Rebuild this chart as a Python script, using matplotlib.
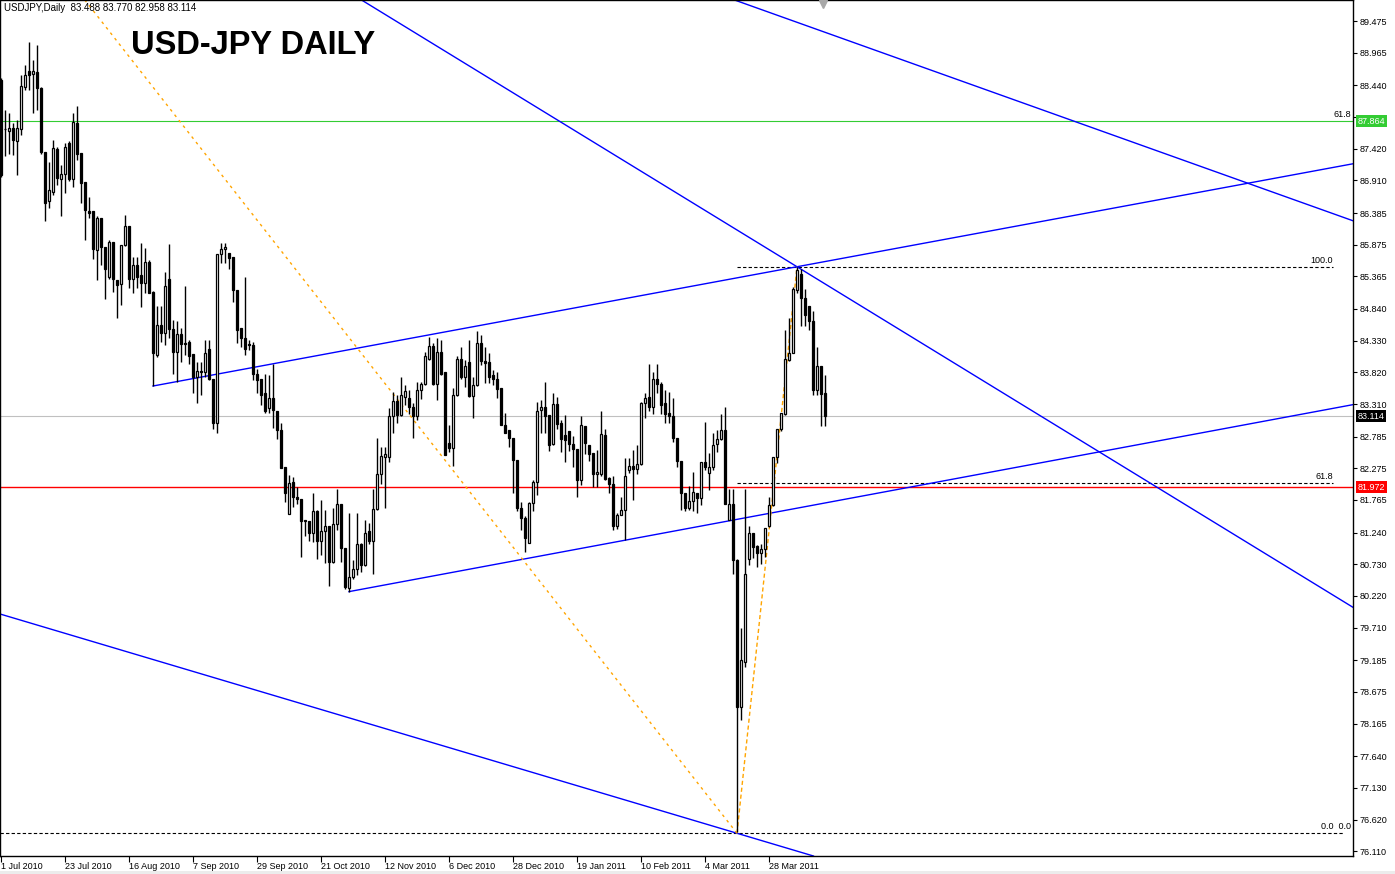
import matplotlib
matplotlib.use('Agg')
import matplotlib.pyplot as plt
import numpy as np
from matplotlib.patches import Rectangle

plt.rcParams['font.family'] = ['Liberation Sans', 'DejaVu Sans']

# daily USDJPY bars (bar index 0 = 1 Jul 2010)
opens = [88.52, 87.74, 87.71, 87.75, 87.55, 87.74, 88.42, 88.67, 88.63, 88.66,
         88.40, 87.37, 86.58, 86.72, 87.42, 86.94, 87.02, 87.51, 86.94, 87.83,
         87.35, 86.88, 86.42, 86.41, 85.79, 86.30, 85.83, 85.36, 85.92, 85.31,
         85.24, 85.87, 86.18, 85.33, 85.55, 85.39, 85.26, 85.59, 85.12, 84.10,
         84.58, 84.45, 85.33, 84.52, 84.15, 84.43, 84.29, 84.31, 84.11, 83.75,
         83.84, 83.82, 84.20, 83.72, 83.00, 85.73, 85.80, 85.74, 85.67, 85.15,
         84.53, 84.38, 84.28, 84.26, 83.80, 83.71, 83.48, 83.24, 83.40, 83.19,
         82.89, 82.30, 81.54, 82.06, 81.81, 81.78, 81.44, 81.42, 81.24, 81.58,
         81.11, 81.27, 81.34, 80.76, 81.38, 81.70, 80.99, 80.35, 80.53, 80.65,
         81.06, 80.72, 81.27, 81.11, 81.62, 82.19, 82.46, 82.46, 83.12, 83.36,
         83.13, 83.43, 83.40, 83.26, 83.11, 83.53, 83.64, 84.03, 84.24, 83.64,
         84.14, 83.83, 82.68, 82.60, 83.45, 84.03, 83.74, 83.99, 83.44, 83.62,
         84.29, 84.01, 83.98, 83.78, 83.72, 83.56, 82.98, 82.89, 82.77, 82.41,
         81.64, 81.47, 81.08, 81.71, 82.06, 83.21, 83.26, 83.13, 82.66, 83.31,
         83.00, 82.81, 82.88, 82.66, 82.58, 82.09, 82.96, 82.65, 82.52, 82.18,
         82.19, 82.81, 82.12, 82.03, 81.34, 81.52, 81.60, 82.25, 82.31, 82.26,
         82.34, 83.32, 83.42, 83.27, 83.71, 83.64, 83.33, 83.16, 83.12, 82.76,
         82.39, 81.88, 81.63, 81.75, 81.88, 81.79, 82.38, 82.20, 82.29, 82.66,
         82.74, 82.89, 81.45, 81.70, 80.80, 78.44, 79.16, 80.81, 81.23, 81.02,
         80.91, 80.98, 81.34, 81.68, 82.45, 82.90, 83.15, 84.02, 84.13, 85.15,
         85.40, 85.01, 84.89, 84.65, 83.54, 83.92, 83.488]
highs = [88.56, 88.04, 87.99, 87.83, 87.88, 88.61, 88.77, 89.13, 88.85, 89.09,
         88.42, 87.37, 87.21, 87.56, 87.45, 87.16, 87.51, 87.55, 87.99, 88.11,
         87.35, 86.88, 86.65, 86.41, 86.33, 86.30, 85.83, 85.95, 85.92, 85.31,
         85.87, 86.35, 86.18, 85.68, 85.68, 85.90, 85.82, 85.63, 85.13, 84.88,
         84.88, 85.44, 85.89, 84.66, 84.64, 84.53, 85.21, 84.34, 84.11, 83.99,
         83.99, 84.34, 84.34, 83.72, 85.73, 85.90, 85.91, 85.74, 85.67, 85.15,
         84.53, 85.36, 84.34, 84.31, 83.88, 83.71, 83.80, 83.78, 83.96, 83.19,
         83.00, 82.30, 82.17, 82.14, 81.98, 81.78, 81.44, 81.42, 81.87, 81.60,
         81.77, 81.60, 81.34, 81.63, 81.94, 81.70, 80.99, 81.55, 80.80, 81.55,
         81.07, 81.44, 81.39, 81.95, 82.77, 82.62, 82.62, 83.24, 83.51, 83.46,
         83.75, 83.62, 83.54, 83.33, 83.67, 83.67, 84.15, 84.39, 84.29, 84.37,
         84.34, 83.83, 82.97, 83.56, 84.08, 84.22, 84.02, 84.34, 83.75, 84.48,
         84.42, 84.23, 84.13, 83.86, 83.83, 83.56, 83.16, 82.89, 82.77, 82.41,
         81.74, 81.50, 81.74, 82.09, 83.35, 83.38, 83.66, 83.13, 83.48, 83.43,
         83.05, 83.13, 82.88, 82.80, 82.58, 83.11, 82.96, 82.65, 82.52, 82.57,
         83.19, 82.91, 82.14, 82.15, 81.55, 81.82, 82.44, 82.44, 82.57, 82.65,
         83.35, 83.49, 83.95, 83.83, 83.95, 83.67, 83.54, 83.51, 83.40, 82.76,
         82.39, 81.88, 81.99, 82.22, 81.88, 82.37, 83.02, 82.52, 82.85, 82.89,
         83.15, 83.27, 81.95, 81.95, 80.82, 79.71, 81.95, 81.34, 81.23, 81.04,
         81.06, 81.31, 81.82, 82.45, 82.91, 83.17, 84.50, 84.69, 85.19, 85.52,
         85.49, 85.16, 84.89, 84.80, 84.23, 83.93, 83.770]
lows = [86.97, 87.30, 87.33, 87.32, 87.00, 87.64, 88.37, 88.37, 88.00, 88.04,
        87.34, 86.25, 86.46, 86.67, 86.84, 86.33, 86.71, 86.90, 86.81, 87.24,
        86.55, 85.95, 86.30, 85.64, 85.30, 85.55, 85.00, 85.32, 85.12, 84.70,
        84.90, 85.86, 85.17, 85.09, 85.17, 84.87, 85.09, 85.09, 83.60, 84.07,
        84.31, 84.26, 84.37, 83.80, 83.67, 83.99, 84.10, 83.95, 83.48, 83.32,
        83.46, 83.75, 83.70, 82.90, 82.85, 85.58, 85.58, 85.49, 84.96, 84.30,
        84.23, 84.10, 84.18, 83.70, 83.49, 83.30, 83.16, 83.16, 82.92, 82.74,
        82.28, 81.74, 81.54, 81.66, 81.70, 80.85, 81.18, 81.11, 81.09, 80.81,
        80.88, 80.75, 80.38, 80.75, 81.28, 80.76, 80.34, 80.29, 80.49, 80.56,
        80.60, 80.70, 81.05, 80.58, 81.60, 82.03, 81.63, 82.37, 82.84, 83.01,
        83.11, 83.30, 83.15, 82.76, 83.05, 83.39, 83.62, 84.02, 83.62, 83.38,
        83.78, 82.49, 82.53, 82.32, 83.44, 83.72, 83.58, 83.42, 83.08, 83.60,
        83.94, 83.65, 83.65, 83.62, 83.40, 82.97, 82.84, 82.62, 81.87, 81.58,
        81.28, 80.93, 81.08, 81.59, 81.85, 82.85, 82.84, 82.55, 82.65, 82.90,
        82.53, 82.38, 82.55, 82.30, 81.82, 82.01, 82.50, 82.40, 81.97, 81.97,
        82.15, 82.09, 81.88, 81.28, 81.30, 81.52, 81.12, 82.20, 81.77, 82.18,
        82.33, 83.08, 83.20, 83.15, 83.48, 83.15, 83.01, 83.01, 82.70, 82.29,
        81.61, 81.59, 81.60, 81.58, 81.55, 81.69, 82.25, 81.93, 82.25, 82.54,
        82.73, 81.70, 81.44, 80.58, 76.42, 78.22, 79.07, 80.72, 80.83, 80.68,
        80.73, 80.85, 81.33, 81.67, 82.36, 82.87, 83.14, 84.00, 84.13, 85.10,
        84.57, 84.57, 84.50, 83.46, 83.45, 82.95, 82.958]
closes = [86.99, 87.73, 87.75, 87.56, 87.75, 88.43, 88.61, 88.61, 88.67, 88.39,
          87.36, 86.55, 86.76, 87.43, 86.95, 87.02, 87.44, 86.94, 87.85, 87.34,
          86.87, 86.43, 86.39, 85.80, 86.30, 85.83, 85.48, 85.92, 85.32, 85.23,
          85.87, 86.18, 85.32, 85.55, 85.36, 85.26, 85.59, 85.09, 84.13, 84.58,
          84.45, 85.21, 84.52, 84.15, 84.43, 84.27, 84.27, 84.08, 83.75, 83.84,
          83.82, 84.13, 83.72, 83.00, 85.73, 85.80, 85.83, 85.66, 85.15, 84.50,
          84.38, 84.19, 84.26, 83.80, 83.69, 83.45, 83.19, 83.40, 83.21, 82.89,
          82.28, 81.88, 82.04, 81.81, 81.78, 81.43, 81.42, 81.24, 81.58, 81.11,
          81.26, 81.34, 80.76, 81.38, 81.70, 80.99, 80.37, 80.53, 80.65, 81.06,
          80.72, 81.23, 81.11, 81.62, 82.19, 82.47, 82.51, 83.12, 83.36, 83.13,
          83.46, 83.52, 83.26, 83.11, 83.54, 83.63, 84.08, 84.24, 83.64, 84.14,
          83.80, 82.49, 82.60, 83.45, 84.03, 83.74, 83.92, 83.44, 83.62, 84.29,
          84.00, 83.97, 83.75, 83.72, 83.55, 82.98, 82.85, 82.76, 82.41, 81.63,
          81.47, 81.15, 81.71, 82.06, 83.20, 83.26, 83.12, 82.65, 83.31, 82.99,
          82.74, 82.73, 82.66, 82.58, 82.09, 82.97, 82.68, 82.51, 82.18, 82.21,
          82.83, 82.10, 82.03, 81.34, 81.52, 81.60, 82.15, 82.31, 82.26, 82.34,
          83.33, 83.40, 83.26, 83.71, 83.64, 83.29, 83.15, 83.11, 82.76, 82.39,
          81.88, 81.63, 81.75, 81.90, 81.79, 82.37, 82.29, 82.29, 82.65, 82.74,
          82.89, 81.70, 81.70, 80.80, 78.44, 79.19, 80.57, 81.23, 81.01, 80.91,
          80.98, 81.31, 81.68, 82.45, 82.91, 83.16, 84.03, 84.13, 85.16, 85.47,
          85.01, 84.74, 84.64, 83.54, 83.92, 83.47, 83.114]

date_labels = ['1 Jul 2010', '23 Jul 2010', '16 Aug 2010', '7 Sep 2010', '29 Sep 2010',
               '21 Oct 2010', '12 Nov 2010', '6 Dec 2010', '28 Dec 2010', '19 Jan 2011',
               '10 Feb 2011', '4 Mar 2011', '28 Mar 2011']
date_bars = [0, 16, 32, 48, 64, 80, 96, 112, 128, 144, 160, 176, 192]
price_ticks = [89.475, 88.965, 88.440, 87.930, 87.420, 86.910, 86.385, 85.875, 85.365,
               84.840, 84.330, 83.820, 83.310, 82.785, 82.275, 81.765, 81.240, 80.730,
               80.220, 79.710, 79.185, 78.675, 78.165, 77.640, 77.130, 76.620, 76.110]

# drawing objects (bar index, price)
fib_low = (184, 76.40)
fib_high = (199, 85.52)
fib_levels = [0.0, 61.8, 100.0]
level_618_top = 87.864
bid = 83.114
red_level = 81.972
blue_full = [((-0.25, 79.93), (184, 76.40)),
             ((91, 89.78), (199, 85.52)),
             ((184, 89.80), (338, 86.26))]
blue_rays = [((38, 83.60), (199, 85.52)),
             ((87, 80.29), (338, 83.30))]
orange_fan = (21, 89.81)

W, H = 1395, 874
fig = plt.figure(figsize=(W / 100, H / 100), dpi=100)
ax = fig.add_axes([0, 18 / H, 1353 / W, 856 / H])
xmin, xmax = -0.25, 338.0
ymin, ymax = 76.034, 89.814
ax.set_xlim(xmin, xmax)
ax.set_ylim(ymin, ymax)

o = np.array(opens); h = np.array(highs); l = np.array(lows); c = np.array(closes)
x = np.arange(len(o))
up = c >= o

# levels under the candles
ax.axhline(level_618_top, color='#33cc33', lw=0.8, zorder=1)
ax.axhline(bid, color='#c0c0c0', lw=0.8, zorder=1)
ax.axhline(red_level, color='red', lw=1.0, zorder=1)

rng = fib_high[1] - fib_low[1]
for lv in fib_levels:
    yv = fib_low[1] + rng * lv / 100
    if lv == 0.0:
        ax.plot([xmin, 335.5], [yv, yv], color='black', lw=0.8, ls=(0, (3, 2)), zorder=1)
        ax.text(337.5, yv + 0.03, '0.0  0.0', ha='right', va='bottom', fontsize=6.5)
    else:
        ax.plot([fib_low[0], 333.0], [yv, yv], color='black', lw=0.8, ls=(0, (3, 2)), zorder=1)
        ax.text(333.0, yv + 0.03, '%.1f' % lv, ha='right', va='bottom', fontsize=6.5)
ax.text(337.5, level_618_top + 0.03, '61.8', ha='right', va='bottom', fontsize=6.5)

for p1, p2 in blue_full:
    ax.axline(p1, p2, color='#0000ff', lw=1.0, zorder=1)
for p1, p2 in blue_rays:
    k = (p2[1] - p1[1]) / (p2[0] - p1[0])
    ax.plot([p1[0], xmax], [p1[1], p1[1] + k * (xmax - p1[0])], color='#0000ff', lw=1.0, zorder=1)

# orange dashed fib trend lines
k = (orange_fan[1] - fib_low[1]) / (orange_fan[0] - fib_low[0])
ax.plot([fib_low[0], 0], [fib_low[1], fib_low[1] - k * fib_low[0]],
        color='#ffa500', lw=1.0, ls=(0, (2, 3)), zorder=1)
ax.plot([fib_low[0], fib_high[0]], [fib_low[1], fib_high[1]],
        color='#ffa500', lw=1.0, ls=(0, (3, 2)), zorder=1)

# candles
ax.vlines(x, l, h, color='black', lw=1.0, zorder=2)
ax.bar(x[up], np.maximum(c[up] - o[up], 0.004), bottom=o[up], width=0.55,
       facecolor='white', edgecolor='black', lw=0.9, zorder=3)
ax.bar(x[~up], c[~up] - o[~up], bottom=o[~up], width=0.55,
       facecolor='black', edgecolor='black', lw=0.9, zorder=3)

# shift marker at top
ax.plot(205.5, ymax - 0.06, marker='v', color='#a8a8a8', ms=6, clip_on=False, zorder=5)

# axes styling
for s in ax.spines.values():
    s.set_color('black')
    s.set_linewidth(1.0)
ax.yaxis.tick_right()
ax.set_yticks(price_ticks)
# the 87.930 label sits under the green price box, so it is left blank
ax.set_yticklabels(['' if v == 87.930 else '%.3f' % v for v in price_ticks])
ax.tick_params(axis='y', length=3, width=0.8, pad=2, labelsize=6.5, colors='black')
ax.set_xticks(date_bars)
ax.set_xticklabels(date_labels, ha='left')
ax.tick_params(axis='x', length=4, width=0.8, pad=0.5, labelsize=6.5, colors='black')

# price boxes on the scale
tr = ax.get_yaxis_transform()
for val, bg in [(level_618_top, '#33cc33'), (bid, 'black'), (red_level, 'red')]:
    ax.text(1.0035, val, '%.3f' % val, transform=tr, ha='left', va='center', fontsize=6.5,
            color='white', clip_on=False, zorder=10,
            bbox=dict(facecolor=bg, edgecolor='none', pad=1.2))

fig.text(4 / W, 1 - 8 / H, 'USDJPY,Daily  83.488 83.770 82.958 83.114',
         ha='left', va='center', fontsize=7)
fig.text(131 / W, 1 - 46 / H, 'USD-JPY DAILY', ha='left', va='center',
         fontsize=23.5, fontweight='bold')
fig.patches.append(Rectangle((0, 0), 1, 3 / H, transform=fig.transFigure,
                             facecolor='#ececec', edgecolor='none'))

fig.savefig('out.png', dpi=100)
